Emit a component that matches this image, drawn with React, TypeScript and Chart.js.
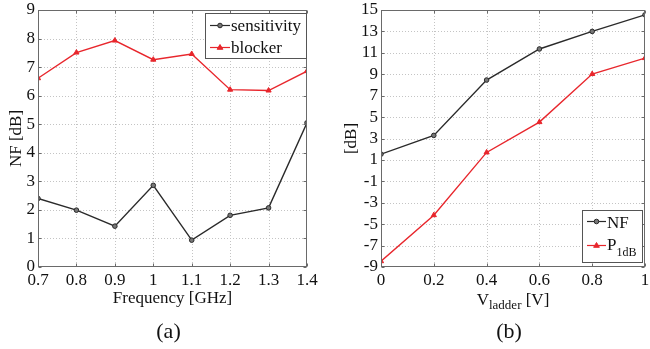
import React, { useEffect, useRef } from 'react';
import { Chart, registerables } from 'chart.js';

Chart.register(...registerables);

const FONT = '"Liberation Serif", "Times New Roman", serif';

// Panel (a)
const frequencyGHz = [0.7, 0.8, 0.9, 1.0, 1.1, 1.2, 1.3, 1.4];
const nfSensitivity = [2.4, 1.99, 1.43, 2.86, 0.94, 1.81, 2.07, 5.05];
const nfBlocker = [6.61, 7.51, 7.93, 7.26, 7.46, 6.21, 6.18, 6.86];
const freqTicks = [0.7, 0.8, 0.9, 1, 1.1, 1.2, 1.3, 1.4];
const nfTicks = [0, 1, 2, 3, 4, 5, 6, 7, 8, 9];

// Panel (b)
const vLadder = [0, 0.2, 0.4, 0.6, 0.8, 1];
const nfVsV = [1.54, 3.29, 8.46, 11.36, 13.0, 14.55];
const p1dBVsV = [-8.46, -4.16, 1.7, 4.53, 9.02, 10.51];
const vTicks = [0, 0.2, 0.4, 0.6, 0.8, 1];
const dbTicks = [-9, -7, -5, -3, -1, 1, 3, 5, 7, 9, 11, 13, 15];

const BLACK = '#2a2a2a';
const RED = '#e8262c';
const AXIS = '#6a6a6a';
const GRID = '#c4c4c4';
const TEXT = '#111';

type Piece = { text: string; size: number; dy?: number };

function pieceWidths(ctx: CanvasRenderingContext2D, pieces: Piece[]) {
  return pieces.map((p) => {
    ctx.font = `${p.size}px ${FONT}`;
    return ctx.measureText(p.text).width;
  });
}

function drawPieces(ctx: CanvasRenderingContext2D, pieces: Piece[], x: number, y: number, align: 'left' | 'center') {
  const w = pieceWidths(ctx, pieces);
  const total = w.reduce((a, b) => a + b, 0);
  let cx = align === 'center' ? x - total / 2 : x;
  ctx.textAlign = 'left';
  ctx.textBaseline = 'alphabetic';
  ctx.fillStyle = TEXT;
  pieces.forEach((p, i) => {
    ctx.font = `${p.size}px ${FONT}`;
    ctx.fillText(p.text, cx, y + (p.dy || 0));
    cx += w[i];
  });
}

function drawMarker(ctx: CanvasRenderingContext2D, kind: 'circle' | 'triangle', x: number, y: number) {
  ctx.save();
  ctx.setLineDash([]);
  ctx.lineWidth = 1;
  if (kind === 'circle') {
    ctx.fillStyle = '#777';
    ctx.strokeStyle = BLACK;
    ctx.beginPath();
    ctx.arc(x, y, 2.3, 0, Math.PI * 2);
    ctx.fill();
    ctx.stroke();
  } else {
    ctx.fillStyle = RED;
    ctx.strokeStyle = RED;
    const r = 3;
    ctx.beginPath();
    ctx.moveTo(x, y - r);
    ctx.lineTo(x + r * 0.95, y + r * 0.6);
    ctx.lineTo(x - r * 0.95, y + r * 0.6);
    ctx.closePath();
    ctx.fill();
    ctx.stroke();
  }
  ctx.restore();
}

type LegendEntry = { color: string; marker: 'circle' | 'triangle'; label: Piece[]; lineY: number; textX: number; baseY: number };

type Decor = {
  xTicks: number[];
  yTicks: number[];
  xTitle: Piece[];
  xTitleY: number;
  yTitle: Piece[];
  yTitleX: number;
  caption: string;
  captionY: number;
  legendBox: [number, number, number, number];
  legendLineX: [number, number];
  legend: LegendEntry[];
};

const decorPlugin = {
  id: 'decor',
  beforeDatasetsDraw(chart: any, _a: any, opts: Decor) {
    const { ctx, chartArea } = chart;
    const xs = chart.scales.x;
    const ys = chart.scales.y;
    ctx.save();
    ctx.strokeStyle = GRID;
    ctx.lineWidth = 1;
    ctx.setLineDash([1, 2]);
    opts.xTicks.forEach((v) => {
      const px = Math.round(xs.getPixelForValue(v)) + 0.5;
      if (px <= chartArea.left + 1 || px >= chartArea.right - 1) return;
      ctx.beginPath();
      ctx.moveTo(px, chartArea.top);
      ctx.lineTo(px, chartArea.bottom);
      ctx.stroke();
    });
    opts.yTicks.forEach((v) => {
      const py = Math.round(ys.getPixelForValue(v)) + 0.5;
      if (py <= chartArea.top + 1 || py >= chartArea.bottom - 1) return;
      ctx.beginPath();
      ctx.moveTo(chartArea.left, py);
      ctx.lineTo(chartArea.right, py);
      ctx.stroke();
    });
    ctx.restore();
  },
  afterDatasetsDraw(chart: any, _a: any, opts: Decor) {
    const { ctx, chartArea } = chart;
    const xs = chart.scales.x;
    const ys = chart.scales.y;
    const L = Math.round(chartArea.left) + 0.5;
    const R = Math.round(chartArea.right) - 0.5;
    const T = Math.round(chartArea.top) + 0.5;
    const B = Math.round(chartArea.bottom) - 0.5;
    ctx.save();
    ctx.setLineDash([]);
    ctx.strokeStyle = AXIS;
    ctx.lineWidth = 1;
    ctx.strokeRect(L, T, R - L, B - T);
    const tl = 3;
    ctx.beginPath();
    opts.xTicks.forEach((v) => {
      const px = Math.round(xs.getPixelForValue(v)) + 0.5;
      ctx.moveTo(px, B);
      ctx.lineTo(px, B - tl);
      ctx.moveTo(px, T);
      ctx.lineTo(px, T + tl);
    });
    opts.yTicks.forEach((v) => {
      const py = Math.round(ys.getPixelForValue(v)) + 0.5;
      ctx.moveTo(L, py);
      ctx.lineTo(L + tl, py);
      ctx.moveTo(R, py);
      ctx.lineTo(R - tl, py);
    });
    ctx.stroke();
    ctx.restore();
  },
  afterDraw(chart: any, _a: any, opts: Decor) {
    const { ctx, chartArea } = chart;
    ctx.save();
    const cx = (chartArea.left + chartArea.right) / 2;
    const cy = (chartArea.top + chartArea.bottom) / 2;
    drawPieces(ctx, opts.xTitle, cx, opts.xTitleY, 'center');
    ctx.save();
    ctx.translate(opts.yTitleX, cy);
    ctx.rotate(-Math.PI / 2);
    drawPieces(ctx, opts.yTitle, 0, 0, 'center');
    ctx.restore();
    drawPieces(ctx, [{ text: opts.caption, size: 22 }], cx - 4, opts.captionY, 'center');

    // legend
    const [bx, by, bw, bh] = opts.legendBox;
    ctx.fillStyle = '#fff';
    ctx.fillRect(bx, by, bw, bh);
    ctx.strokeStyle = '#555';
    ctx.lineWidth = 1;
    ctx.setLineDash([]);
    ctx.strokeRect(bx + 0.5, by + 0.5, bw, bh);
    opts.legend.forEach((e) => {
      ctx.strokeStyle = e.color;
      ctx.lineWidth = 1.2;
      ctx.beginPath();
      ctx.moveTo(opts.legendLineX[0], e.lineY);
      ctx.lineTo(opts.legendLineX[1], e.lineY);
      ctx.stroke();
      drawMarker(ctx, e.marker, (opts.legendLineX[0] + opts.legendLineX[1]) / 2, e.lineY);
      drawPieces(ctx, e.label, e.textX, e.baseY, 'left');
    });
    ctx.restore();
  },
};

type Panel = {
  xs: number[];
  series: { label: string; ys: number[]; color: string; marker: 'circle' | 'triangle' }[];
  xMin: number;
  xMax: number;
  yMin: number;
  yMax: number;
  xTicks: number[];
  yTicks: number[];
  yWidth: number;
  padRight: number;
  decor: Decor;
};

const fmt = (v: any) => String(Math.round(Number(v) * 100) / 100);

function buildConfig(p: Panel): any {
  const tickFont = { family: FONT, size: 17 };
  return {
    type: 'line',
    data: {
      datasets: p.series.map((s) => ({
        label: s.label,
        data: p.xs.map((x, i) => ({ x, y: s.ys[i] })),
        borderColor: s.color,
        borderWidth: 1.4,
        pointStyle: s.marker,
        pointRadius: s.marker === 'circle' ? 2.3 : 3,
        pointBackgroundColor: s.marker === 'circle' ? '#777' : s.color,
        pointBorderColor: s.marker === 'circle' ? BLACK : s.color,
        pointBorderWidth: 1,
        tension: 0,
        fill: false,
      })),
    },
    options: {
      responsive: false,
      animation: false,
      devicePixelRatio: 1,
      layout: { padding: { left: 0, top: 10, right: p.padRight, bottom: 0 } },
      scales: {
        x: {
          type: 'linear',
          min: p.xMin,
          max: p.xMax,
          afterBuildTicks: (s: any) => {
            s.ticks = p.xTicks.map((v) => ({ value: v }));
          },
          afterFit: (s: any) => {
            s.height = 82;
            s.paddingLeft = 0;
            s.paddingRight = 0;
          },
          grid: { display: false, drawTicks: false },
          border: { display: false },
          ticks: { font: tickFont, color: TEXT, padding: 3, autoSkip: false, maxRotation: 0, minRotation: 0, callback: fmt },
        },
        y: {
          type: 'linear',
          min: p.yMin,
          max: p.yMax,
          afterBuildTicks: (s: any) => {
            s.ticks = p.yTicks.map((v) => ({ value: v }));
          },
          afterFit: (s: any) => {
            s.width = p.yWidth;
            s.paddingTop = 0;
            s.paddingBottom = 0;
          },
          grid: { display: false, drawTicks: false },
          border: { display: false },
          ticks: { font: tickFont, color: TEXT, padding: 3, autoSkip: false, callback: fmt },
        },
      },
      plugins: {
        legend: { display: false },
        tooltip: { enabled: false },
        title: { display: false },
        decor: p.decor,
      },
    },
    plugins: [decorPlugin],
  };
}

const panelA: Panel = {
  xs: frequencyGHz,
  series: [
    { label: 'sensitivity', ys: nfSensitivity, color: BLACK, marker: 'circle' },
    { label: 'blocker', ys: nfBlocker, color: RED, marker: 'triangle' },
  ],
  xMin: 0.7,
  xMax: 1.4,
  yMin: 0,
  yMax: 9,
  xTicks: freqTicks,
  yTicks: nfTicks,
  yWidth: 38,
  padRight: 18,
  decor: {
    xTicks: freqTicks,
    yTicks: nfTicks,
    xTitle: [{ text: 'Frequency [GHz]', size: 17 }],
    xTitleY: 303,
    yTitle: [{ text: 'NF [dB]', size: 17 }],
    yTitleX: 21,
    caption: '(a)',
    captionY: 338,
    legendBox: [205, 13, 101, 45],
    legendLineX: [210, 230],
    legend: [
      { color: BLACK, marker: 'circle', label: [{ text: 'sensitivity', size: 17 }], lineY: 25.5, textX: 231, baseY: 31 },
      { color: RED, marker: 'triangle', label: [{ text: 'blocker', size: 17 }], lineY: 47.5, textX: 231, baseY: 53 },
    ],
  },
};

const panelB: Panel = {
  xs: vLadder,
  series: [
    { label: 'NF', ys: nfVsV, color: BLACK, marker: 'circle' },
    { label: 'P1dB', ys: p1dBVsV, color: RED, marker: 'triangle' },
  ],
  xMin: 0,
  xMax: 1,
  yMin: -9,
  yMax: 15,
  xTicks: vTicks,
  yTicks: dbTicks,
  yWidth: 56,
  padRight: 1,
  decor: {
    xTicks: vTicks,
    yTicks: dbTicks,
    xTitle: [
      { text: 'V', size: 17 },
      { text: 'ladder', size: 13, dy: 4 },
      { text: ' [V]', size: 17 },
    ],
    xTitleY: 305,
    yTitle: [{ text: '[dB]', size: 17 }],
    yTitleX: 31,
    caption: '(b)',
    captionY: 338,
    legendBox: [257, 210, 60, 52],
    legendLineX: [262, 281],
    legend: [
      { color: BLACK, marker: 'circle', label: [{ text: 'NF', size: 17 }], lineY: 221.5, textX: 282, baseY: 228 },
      {
        color: RED,
        marker: 'triangle',
        label: [
          { text: 'P', size: 17 },
          { text: '1dB', size: 12, dy: 6 },
        ],
        lineY: 245.5,
        textX: 282,
        baseY: 250,
      },
    ],
  },
};

function ChartPanel({ panel, left }: { panel: Panel; left: number }) {
  const ref = useRef<HTMLCanvasElement | null>(null);
  useEffect(() => {
    if (!ref.current) return;
    const chart = new Chart(ref.current, buildConfig(panel));
    return () => chart.destroy();
  }, [panel]);
  return (
    <div style={{ position: 'absolute', left, top: 0, width: 325, height: 349 }}>
      <canvas ref={ref} width={325} height={349} style={{ display: 'block', width: 325, height: 349 }} />
    </div>
  );
}

export default function App() {
  return (
    <div style={{ position: 'fixed', left: 0, top: 0, width: 650, height: 349, overflow: 'hidden', background: '#fff' }}>
      <ChartPanel panel={panelA} left={0} />
      <ChartPanel panel={panelB} left={325} />
    </div>
  );
}
